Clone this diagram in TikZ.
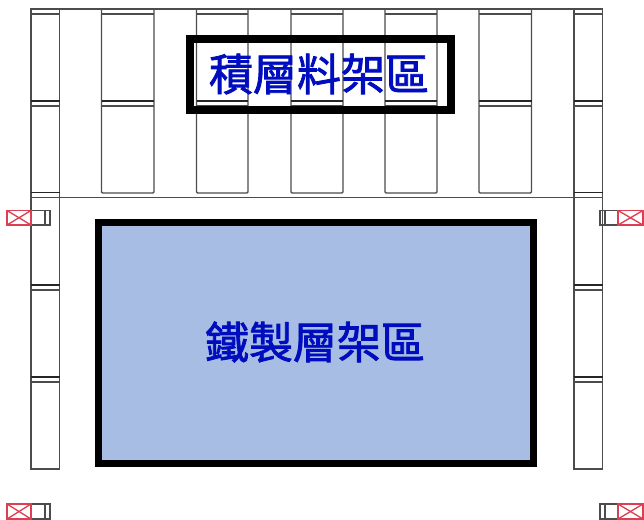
\documentclass[tikz,border=0pt]{standalone}
\usepackage{fontspec}
\newfontfamily\cjk{Noto Sans CJK TC}[FakeBold=1.8]
\usepackage{tikz}
\usetikzlibrary{calc}
\definecolor{labelblue}{rgb}{0.0,0.05,0.75}
\definecolor{zonefill}{rgb}{0.66,0.74,0.89}
\definecolor{markred}{rgb}{0.86,0.25,0.32}
\definecolor{rackline}{rgb}{0.3,0.3,0.3}
\tikzset{
  rack/.style={draw=rackline,line width=1pt},
  rackheavy/.style={draw=black!85,line width=1.2pt},
  zone/.style={draw=black,inner sep=0pt},
  zonetext/.style={font=\cjk\fontsize{33pt}{33pt}\selectfont,text=labelblue},
  mark line/.style={draw=markred,line width=1pt},
}
\begin{document}
\begin{tikzpicture}[x=0.75pt,y=-0.75pt]
        \useasboundingbox (0,0) rectangle (644,519);
        % rack columns on top
        \foreach \xa/\xb in {101.5/154,196.5/248,291/343,385/437,479/531.5}{
          \draw[rack,rounded corners=0.8pt] (\xa,9) -- (\xa,193) -- (\xb,193) -- (\xb,9);
          \draw[rack] (\xa,14) -- (\xb,14);
          \draw[rackheavy] (\xa,101) -- (\xb,101);
          \draw[rack] (\xa,106) -- (\xb,106);
        }
        % outer posts
        \foreach \xa/\xb in {31/59.5,574/602.5}{
          \draw[rack] (\xa,9) rectangle (\xb,469);
          \draw[rack] (\xa,14) -- (\xb,14);
          \draw[rackheavy] (\xa,192.5) -- (\xb,192.5);
          \foreach \yy in {101,285,377}{
            \draw[rackheavy] (\xa,\yy) -- (\xb,\yy);
            \draw[rack] (\xa,\yy+5) -- (\xb,\yy+5);
          }
        }
        \draw[rack] (31,9) -- (602.5,9);
        \draw[rack] (31,197.5) -- (602.5,197.5);
        % end markers
        \foreach \xa/\xb/\xc/\xd/\ya/\yb in {7/31/50/45/210.5/225,643/618/600/605/210.5/225,7/31/50/45/504/519,643/618/600/605/504/519}{
          \draw[rack] (\xb,\ya) rectangle (\xc,\yb);
          \draw[rack] (\xd,\ya) -- (\xd,\yb);
          \draw[mark line] (\xa,\ya) rectangle (\xb,\yb);
          \draw[mark line] (\xa,\ya) -- (\xb,\yb);
          \draw[mark line] (\xa,\yb) -- (\xb,\ya);
        }
        % the two zones
        \node[zone,line width=6pt,minimum width=196pt,minimum height=53pt] (scrapzone) at (320.5,74.5) {};
        \node[zone,line width=5.6pt,fill=zonefill,minimum width=326pt,minimum height=180.4pt] (ironzone) at (316,343) {};
        \node[zonetext] (scraplabel) at (319,74) {積層料架區};
        \node[zonetext] (ironlabel) at (315,342) {鐵製層架區};
      \end{tikzpicture}
\end{document}
